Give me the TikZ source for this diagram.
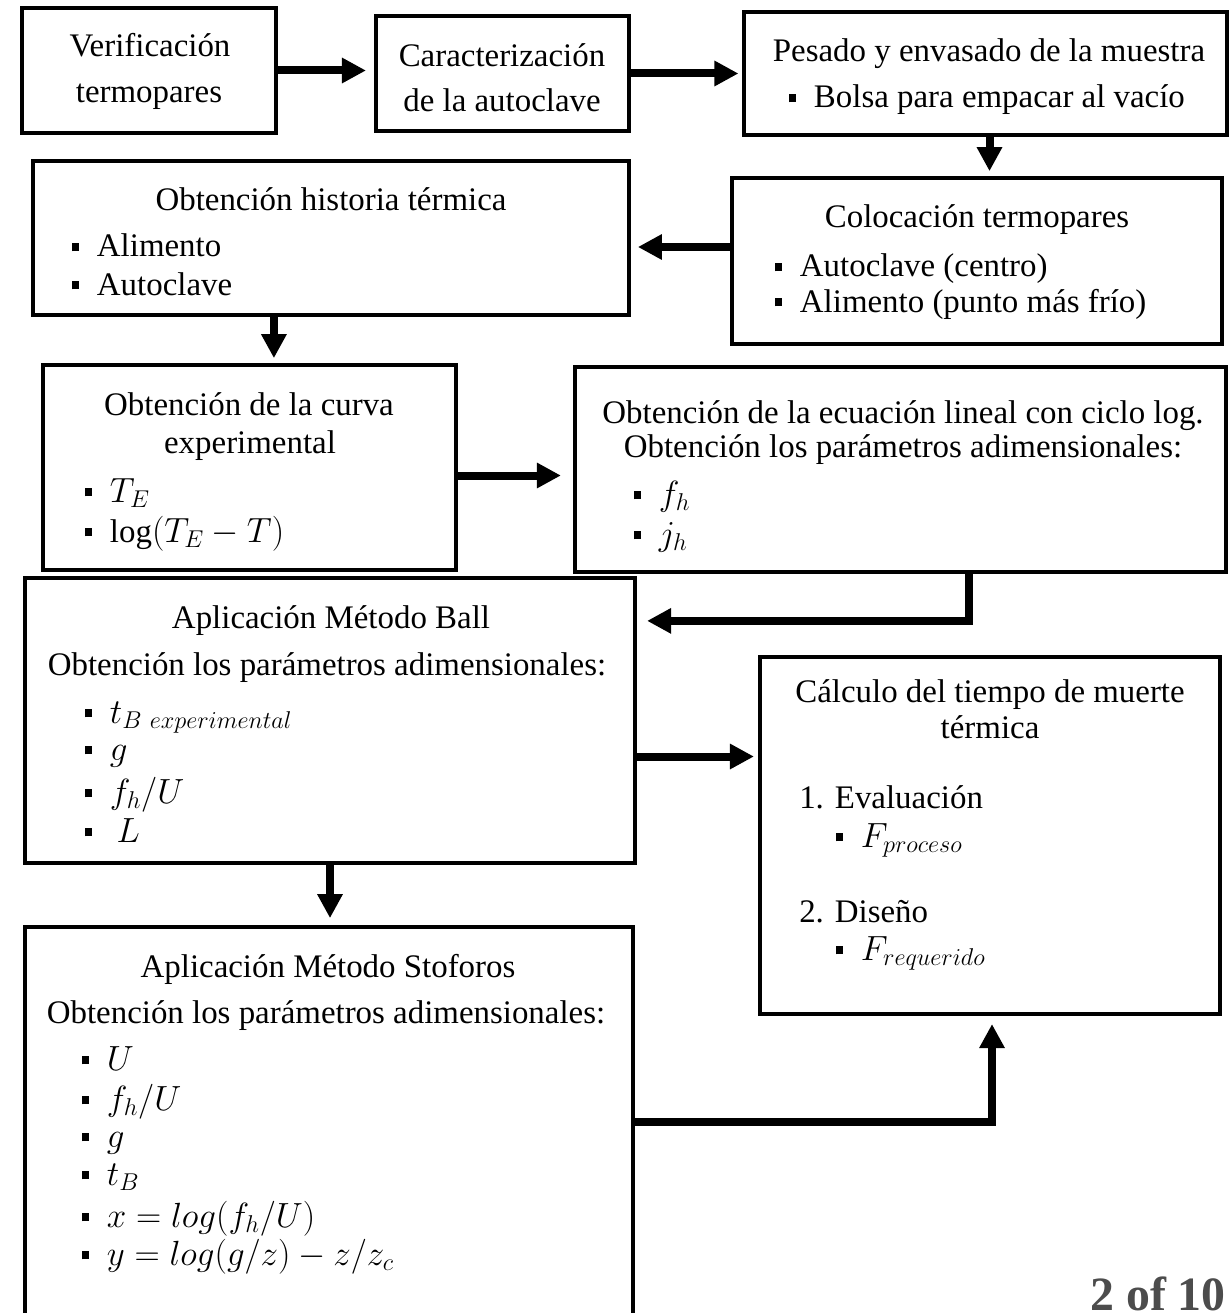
\documentclass[tikz,border=0pt]{standalone}
\usepackage{fontspec}
\setmainfont{Liberation Serif}
\usetikzlibrary{arrows.meta}
\newcommand{\bul}{\rule[0.17em]{0.2em}{0.27em}\hspace{0.55em}}
\begin{document}
\fontsize{23.4}{28}\selectfont
\begin{tikzpicture}[x=0.025cm, y=-0.025cm, >={Triangle[length=0.6cm,width=0.6cm]},
	caja/.style={draw, line width=0.1cm, inner sep=0},
	flecha/.style={->, line width=0.2cm},
	every node/.append style={inner sep=0}]
	\useasboundingbox (0,0) rectangle (1228,1313);
	% cajas
	\node[caja, minimum width=6.35cm, minimum height=3.125cm] (verif) at (149,70.5) {};
	\node[caja, minimum width=6.325cm, minimum height=2.875cm] (caract) at (502.5,73.5) {};
	\node[caja, minimum width=12.05cm, minimum height=3.075cm] (pesado) at (985.5,73.5) {};
	\node[caja, minimum width=12.25cm, minimum height=4.15cm] (coloc) at (977,261) {};
	\node[caja, minimum width=14.9cm, minimum height=3.85cm] (hist) at (331,238) {};
	\node[caja, minimum width=10.325cm, minimum height=5.125cm] (curva) at (249.5,467.5) {};
	\node[caja, minimum width=16.275cm, minimum height=5.125cm] (ecuac) at (900.5,469.5) {};
	\node[caja, minimum width=15.25cm, minimum height=7.125cm] (ball) at (330,720.5) {};
	\node[caja, minimum width=11.5cm, minimum height=8.925cm] (calc) at (990,835.5) {};
	\node[caja, minimum width=15.2cm, minimum height=10.325cm] (stof) at (329,1133.5) {};
	% textos
	\node[anchor=base] (v1) at (150,57) {Verificación};
	\node[anchor=base] (v2) at (149,103) {termopares};
	\node[anchor=base] (c1) at (502,67) {Caracterización};
	\node[anchor=base] (c2) at (502,112) {de la autoclave};
	\node[anchor=base] (p1) at (989,62) {Pesado y envasado de la muestra};
	\node[anchor=base west] (p2) at (789,108) {\bul Bolsa para empacar al vacío};
	\node[anchor=base] (h1) at (331,211) {Obtención historia térmica};
	\node[anchor=base west] (h2) at (72,257) {\bul Alimento};
	\node[anchor=base west] (h3) at (72,295) {\bul Autoclave};
	\node[anchor=base] (t1) at (977,228) {Colocación termopares};
	\node[anchor=base west] (t2) at (775,277) {\bul Autoclave (centro)};
	\node[anchor=base west] (t3) at (775,312) {\bul Alimento (punto más frío)};
	\node[anchor=base] (k1) at (249,415) {Obtención de la curva};
	\node[anchor=base] (k2) at (250,453) {experimental};
	\node[anchor=base west] (k3) at (85,502) {\bul $T_E$};
	\node[anchor=base west] (k4) at (85,542) {\bul $\log(T_E-T)$};
	\node[anchor=base] (e1) at (903,423) {Obtención de la ecuación lineal con ciclo log.};
	\node[anchor=base] (e2) at (903,457) {Obtención los parámetros adimensionales:};
	\node[anchor=base west] (e3) at (634,505) {\bul $f_h$};
	\node[anchor=base west] (e4) at (634,545) {\bul $j_h$};
	\node[anchor=base] (b1) at (331,628) {Aplicación Método Ball};
	\node[anchor=base] (b2) at (327,675) {Obtención los parámetros adimensionales:};
	\node[anchor=base west] (b3) at (85,723) {\bul $t_{B\ experimental}$};
	\node[anchor=base west] (b4) at (85,760) {\bul $g$};
	\node[anchor=base west] (b5) at (85,803) {\bul $f_h/U$};
	\node[anchor=base west] (b6) at (85,842) {\bul\hspace{0.2em}$L$};
	\node[anchor=base] (m1) at (990,702) {Cálculo del tiempo de muerte};
	\node[anchor=base] (m2) at (990,738) {térmica};
	\node[anchor=base west] (m3) at (799,808) {1. Evaluación};
	\node[anchor=base west] (m4) at (836,847) {\bul $F_{proceso}$};
	\node[anchor=base west] (m5) at (799,922) {2. Diseño};
	\node[anchor=base west] (m6) at (836,960) {\bul $F_{requerido}$};
	\node[anchor=base] (s1) at (328,977) {Aplicación Método Stoforos};
	\node[anchor=base] (s2) at (326,1023) {Obtención los parámetros adimensionales:};
	\node[anchor=base west] (s3) at (82,1070) {\bul $U$};
	\node[anchor=base west] (s4) at (82,1110) {\bul $f_h/U$};
	\node[anchor=base west] (s5) at (82,1147) {\bul $g$};
	\node[anchor=base west] (s6) at (82,1185) {\bul $t_B$};
	\node[anchor=base west] (s7) at (82,1227) {\bul $x=log(f_h/U)$};
	\node[anchor=base west] (s8) at (82,1265) {\bul $y=log(g/z)-z/z_c$};
	\node[anchor=base east, text=black!70, font=\fontsize{34}{40}\selectfont\bfseries] (pag) at (1226,1310) {2 of 10};
	% flechas
	\draw[flecha, shorten >=0.2cm] (verif.east) -- (verif.east -| caract.west);
	\draw[flecha, shorten >=0.1cm] (caract.east) -- (caract.east -| pesado.west);
	\draw[flecha, shorten >=0.12cm] ([xshift=0.1cm]pesado.south) -- ([xshift=0.1cm]pesado.south |- coloc.north);
	\draw[flecha, shorten >=0.17cm] ([yshift=0.35cm]coloc.west) -- ([yshift=0.35cm]coloc.west -| hist.east);
	\draw[flecha, shorten >=0.12cm] ([xshift=0.61cm]curva.north |- hist.south) -- ([xshift=0.61cm]curva.north);
	\draw[flecha, shorten >=0.3cm] ([yshift=-0.2cm]curva.east) -- ([yshift=-0.2cm]curva.east -| ecuac.west);
	\draw[flecha, shorten >=0.25cm] ([xshift=1.71cm]ecuac.south) |- ([yshift=2.49cm]ball.east);
	\draw[flecha, shorten >=0.1cm] ([yshift=-0.9cm]ball.east) -- ([yshift=-0.9cm]ball.east -| calc.west);
	\draw[flecha, shorten >=0.17cm] (ball.south) -- (ball.south |- stof.north);
	\draw[flecha, shorten >=0.2cm] ([yshift=0.29cm]stof.east) -| ([xshift=0.05cm]calc.south);
\end{tikzpicture}
\end{document}
